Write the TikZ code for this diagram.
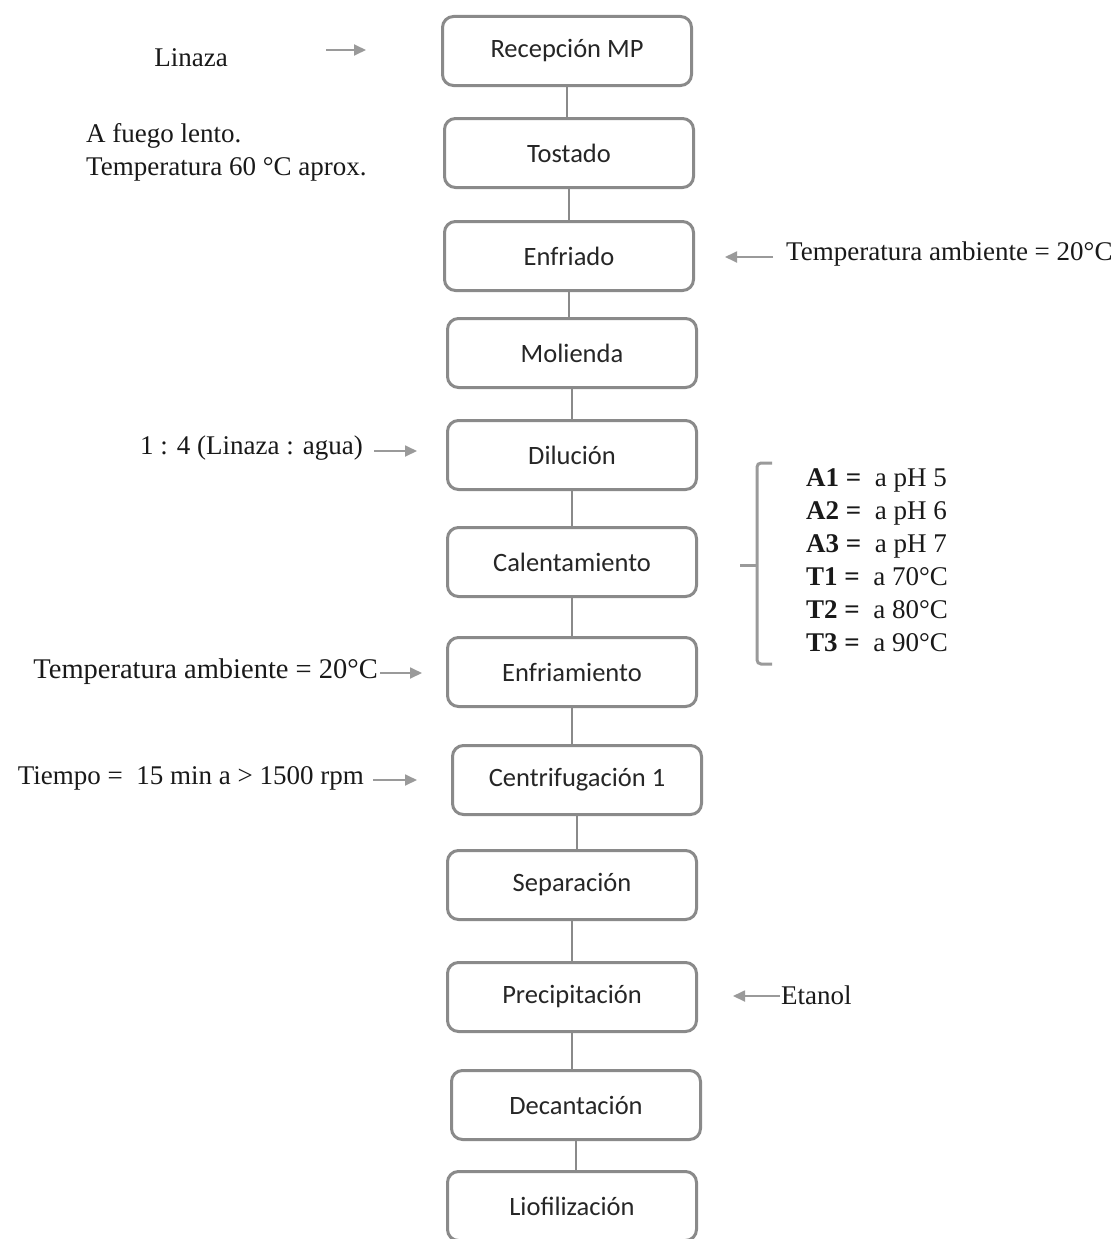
\documentclass[tikz,border=0pt]{standalone}
\usepackage{fontspec}
\setmainfont{Liberation Serif}
\newfontfamily\boxfont{Carlito}
\usetikzlibrary{arrows.meta}
\definecolor{boxgray}{HTML}{8A8A8A}
\definecolor{arrgray}{HTML}{9A9A9A}
\tikzset{
  stepbox/.style={draw=boxgray, line width=3pt, rounded corners=11pt, fill=white,
    minimum width=249pt, minimum height=69pt, inner sep=0pt,
    font=\boxfont\fontsize{26.5}{30}\selectfont, text=black!85},
  link/.style={draw=boxgray, line width=2.2pt},
  side/.style={font=\fontsize{27}{33}\selectfont, inner sep=0pt, text=black!90},
  arr/.style={draw=arrgray, line width=1.8pt, -{Triangle[length=12pt,width=11pt]}},
  brk/.style={draw=arrgray, line width=3pt, rounded corners=4pt}
}
\begin{document}
\begin{tikzpicture}[x=1pt,y=-1pt]
\useasboundingbox (0,0) rectangle (1113,1239);
\fill[white] (0,0) rectangle (1113,1239);
% boxes
\node[stepbox] (rec) at (567,51) {Recepción MP};
\node[stepbox] (tos) at (569,153) {Tostado};
\node[stepbox] (enf) at (569,256) {Enfriado};
\node[stepbox] (mol) at (572,353) {Molienda};
\node[stepbox] (dil) at (572,455) {Dilución};
\node[stepbox] (cal) at (572,562) {Calentamiento};
\node[stepbox] (enm) at (572,672) {Enfriamiento};
\node[stepbox] (cen) at (577,780) {Centrifugación 1};
\node[stepbox] (sep) at (572,885) {Separación};
\node[stepbox] (pre) at (572,997) {Precipitación};
\node[stepbox] (dec) at (576,1105) {Decantación};
\node[stepbox] (lio) at (572,1206) {Liofilización};
% links
\foreach \a/\b in {rec/tos,tos/enf,enf/mol,mol/dil,dil/cal,cal/enm,enm/cen,cen/sep,sep/pre,pre/dec,dec/lio}
  \draw[link] (\a.south) -- (\a.south |- \b.north);
% side texts
\node[side] (lin) at (191,58) {Linaza};
\node[side, anchor=west, align=left] (fue) at (86,152) {A fuego lento.\\Temperatura 60 °C aprox.};
\node[side, anchor=west] (tam1) at (786,254) {Temperatura ambiente = 20°C};
\node[side, anchor=east] (dilt) at (363,448) {1 : 4 (Linaza : agua)};
\node[side, anchor=east, font=\fontsize{28.5}{33}\selectfont] (tam2) at (378,672) {Temperatura ambiente = 20°C};
\node[side, anchor=east] (tie) at (364,778) {Tiempo = \ 15 min a > 1500 rpm};
\node[side, anchor=west] (eta) at (781,995) {Etanol};
\node[side, anchor=west, align=left] (lst) at (806,560) {%
\textbf{A1 =}\ \ a pH 5\\
\textbf{A2 =}\ \ a pH 6\\
\textbf{A3 =}\ \ a pH 7\\
\textbf{T1 =}\ \ a 70°C\\
\textbf{T2 =}\ \ a 80°C\\
\textbf{T3 =}\ \ a 90°C};
% arrows
\coordinate (s1) at (326,50);
\draw[arr, shorten >=75pt] (s1) -- (s1 -| rec.west);
\coordinate (s2) at (773,257);
\draw[arr, shorten >=30pt] (s2) -- (s2 -| enf.east);
\coordinate (s3) at (374,451);
\draw[arr, shorten >=29pt] (s3) -- (s3 -| dil.west);
\coordinate (s4) at (380,673);
\draw[arr, shorten >=24pt] (s4) -- (s4 -| enm.west);
\coordinate (s5) at (373,780);
\draw[arr, shorten >=34pt] (s5) -- (s5 -| cen.west);
\coordinate (s6) at (780,996);
\draw[arr, shorten >=35pt] (s6) -- (s6 -| pre.east);
% bracket
\coordinate (bt) at (772,463);
\coordinate (bb) at (772,664);
\draw[brk] (bt) -- (757,463) -- (757,664) -- (bb);
\coordinate (bm) at (740,565);
\draw[brk] (bm) -- (757,565);
\end{tikzpicture}
\end{document}
